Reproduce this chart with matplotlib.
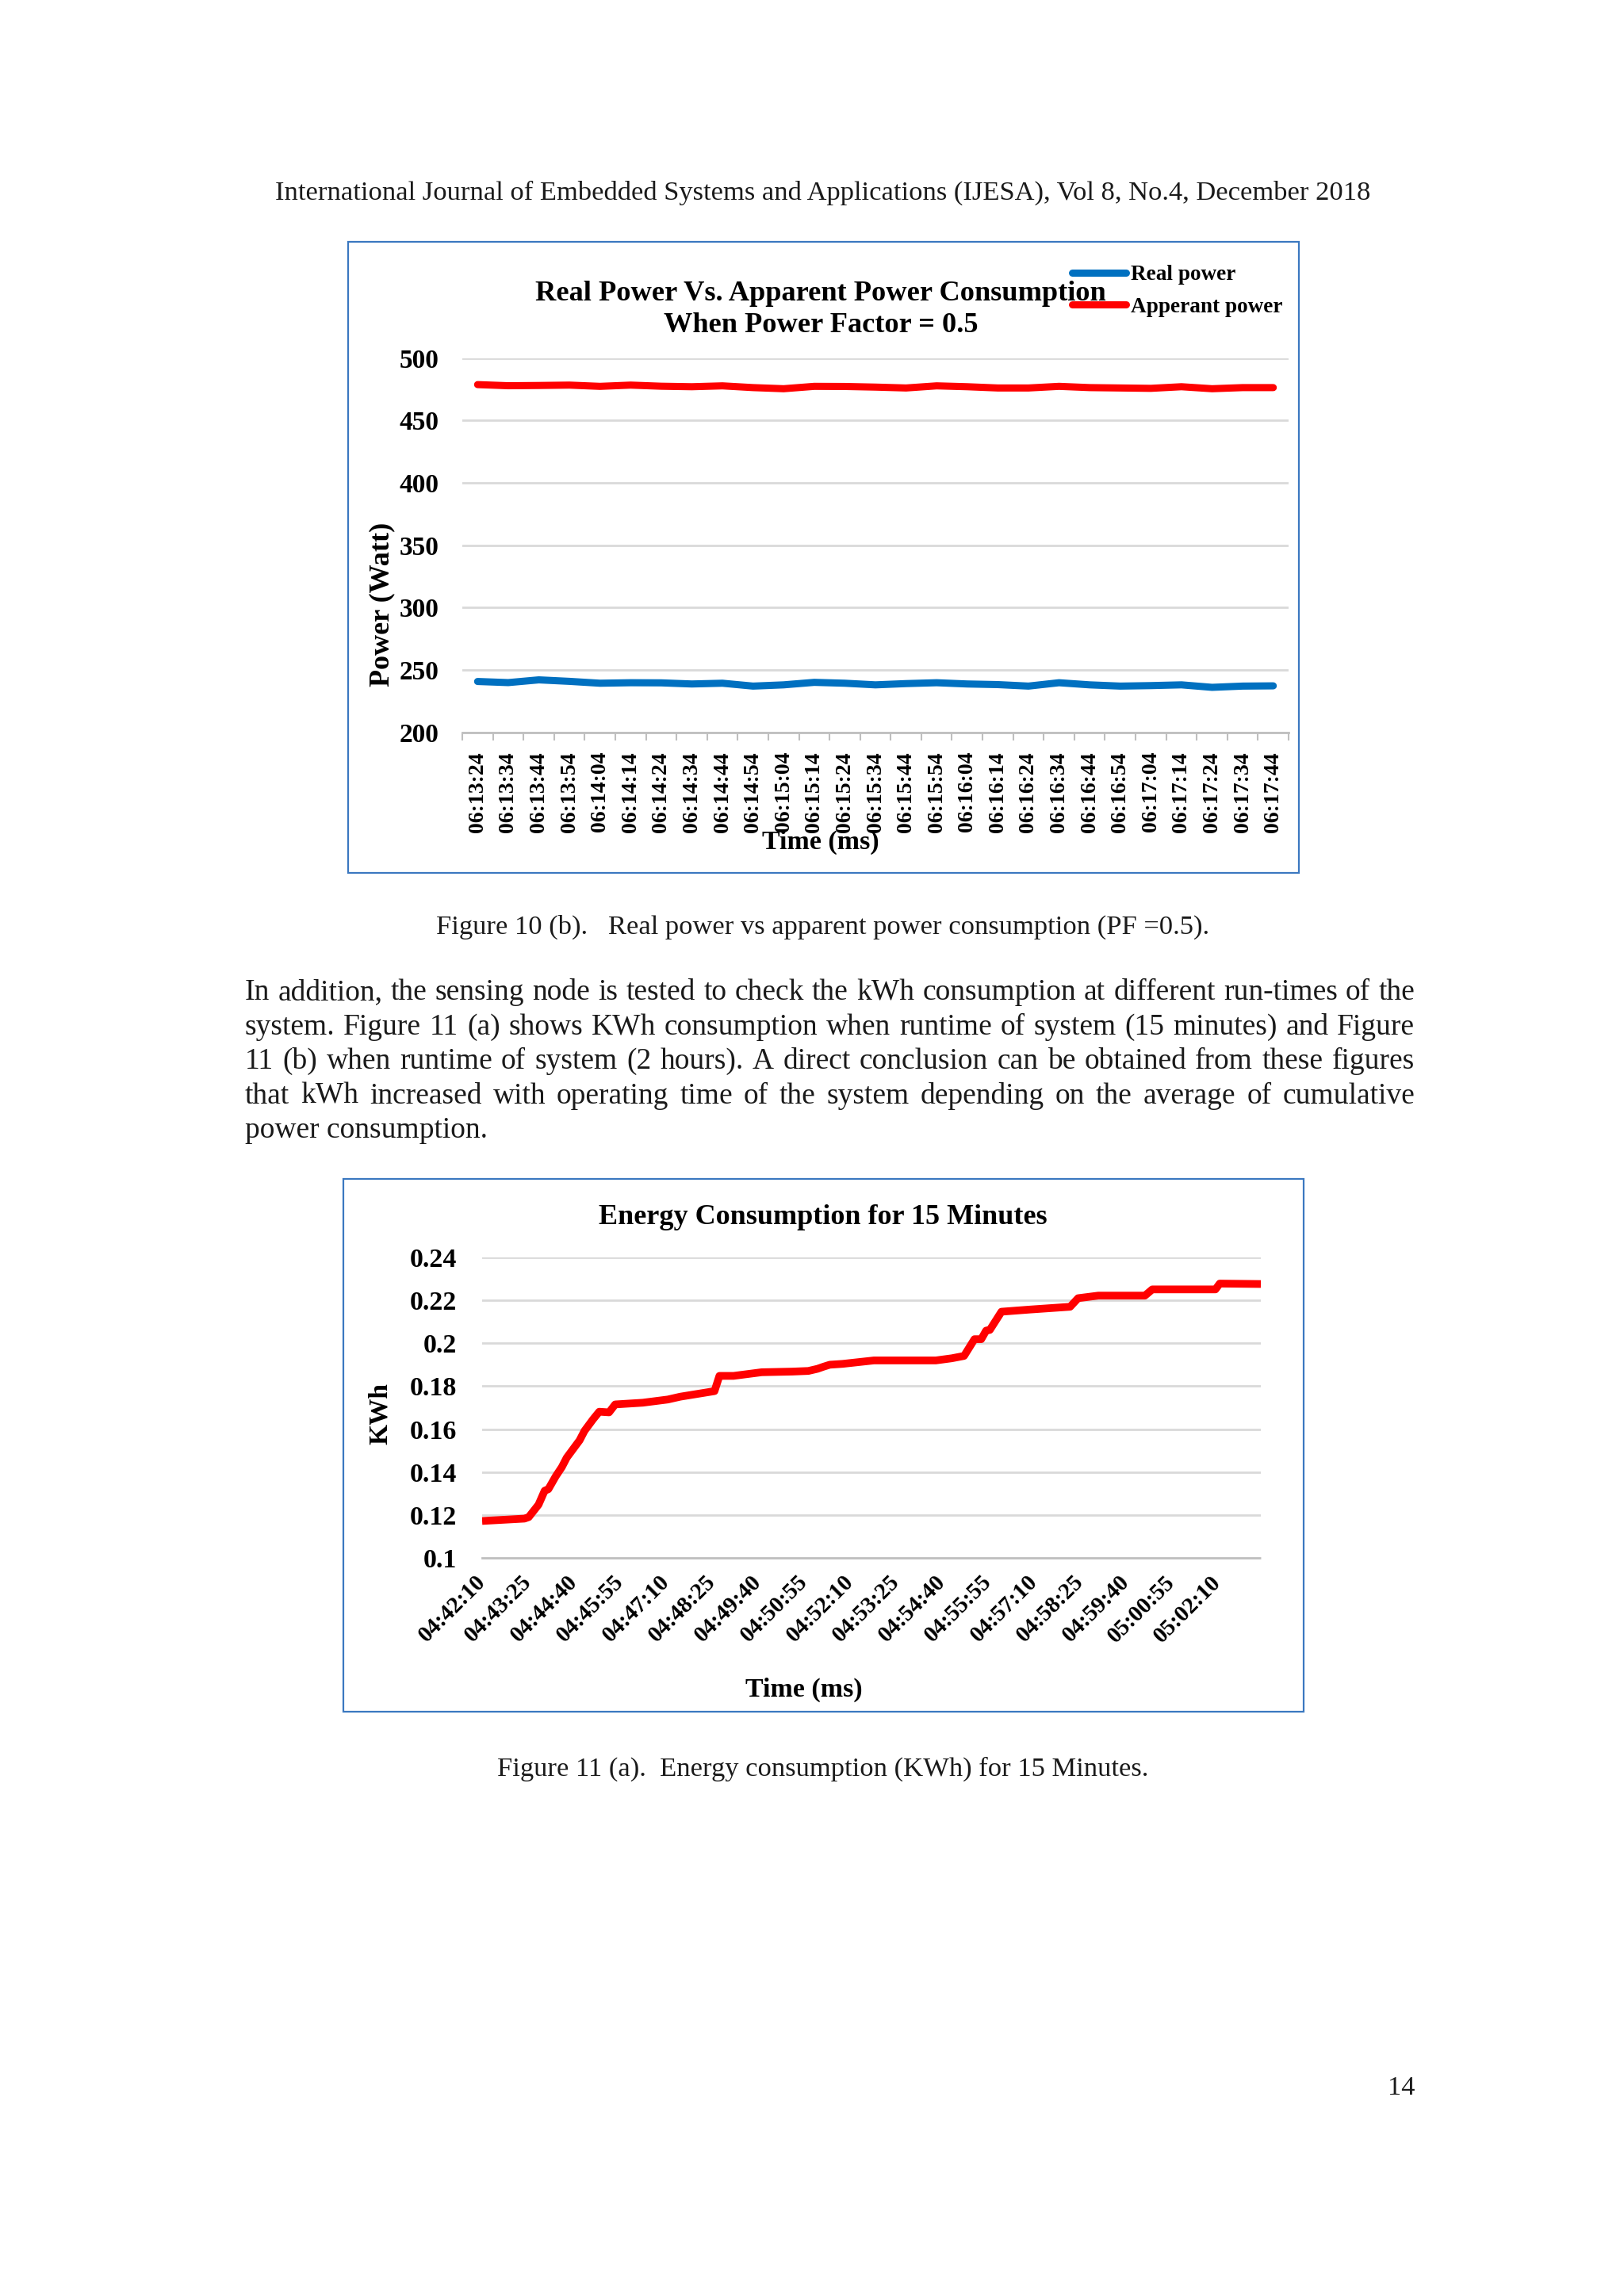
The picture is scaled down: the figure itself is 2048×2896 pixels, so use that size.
import matplotlib
matplotlib.use("Agg")
import matplotlib.pyplot as plt
from matplotlib.patches import Rectangle

plt.rcParams['font.family'] = ['Liberation Serif', 'DejaVu Serif']

# ------------------------------------------------------------------
# Data: Figure 10 (b) - real vs apparent power, PF = 0.5
# ------------------------------------------------------------------
time_labels_10 = [
    '06:13:24', '06:13:34', '06:13:44', '06:13:54', '06:14:04', '06:14:14',
    '06:14:24', '06:14:34', '06:14:44', '06:14:54', '06:15:04', '06:15:14',
    '06:15:24', '06:15:34', '06:15:44', '06:15:54', '06:16:04', '06:16:14',
    '06:16:24', '06:16:34', '06:16:44', '06:16:54', '06:17:04', '06:17:14',
    '06:17:24', '06:17:34', '06:17:44',
]
real_power = [
    240.7, 239.8, 242.0, 240.8, 239.3, 239.7, 239.6, 238.7, 239.3, 237.0,
    238.0, 240.0, 239.3, 238.0, 239.0, 239.7, 238.7, 238.2, 237.0, 239.7,
    238.0, 237.0, 237.4, 238.0, 236.0, 237.0, 237.2,
]
apparent_power = [
    478.7, 477.8, 478.0, 478.3, 477.3, 478.3, 477.4, 477.0, 477.7, 476.3,
    475.4, 477.3, 477.2, 476.7, 476.0, 477.7, 477.0, 476.0, 476.0, 477.3,
    476.3, 476.0, 475.7, 477.0, 475.4, 476.3, 476.3,
]
power_ticks = [200, 250, 300, 350, 400, 450, 500]

# ------------------------------------------------------------------
# Data: Figure 11 (a) - cumulative energy, seconds after 04:42:10
# ------------------------------------------------------------------
elapsed_s = [
    0, 69, 76, 92, 102, 108, 120, 130, 138, 159, 167, 181, 191, 207, 217,
    262, 303, 323, 379, 387, 410, 456, 506, 532, 547, 557, 567, 588, 639,
    740, 766, 786, 803, 814, 822, 828, 847, 893, 959, 972, 1005, 1081,
    1093, 1196, 1203, 1270,
]
energy_kwh = [
    0.1172, 0.1183, 0.1190, 0.1248, 0.1313, 0.1320, 0.1380, 0.1423, 0.1467,
    0.1548, 0.1592, 0.1646, 0.1681, 0.1678, 0.1715, 0.1723, 0.1738, 0.1751,
    0.1777, 0.1848, 0.1848, 0.1865, 0.1868, 0.1871, 0.1881, 0.1891, 0.1900,
    0.1904, 0.1920, 0.1920, 0.1930, 0.1941, 0.2019, 0.2019, 0.2059, 0.2062,
    0.2147, 0.2157, 0.2170, 0.2210, 0.2222, 0.2222, 0.2251, 0.2251, 0.2278,
    0.2276,
]
time_labels_11 = [
    '04:42:10', '04:43:25', '04:44:40', '04:45:55', '04:47:10', '04:48:25',
    '04:49:40', '04:50:55', '04:52:10', '04:53:25', '04:54:40', '04:55:55',
    '04:57:10', '04:58:25', '04:59:40', '05:00:55', '05:02:10',
]
label_step_s = 75
energy_ticks = [0.10, 0.12, 0.14, 0.16, 0.18, 0.20, 0.22, 0.24]
energy_tick_labels = ['0.1', '0.12', '0.14', '0.16', '0.18', '0.2', '0.22', '0.24']

# ------------------------------------------------------------------
# Page text
# ------------------------------------------------------------------
header = ("International Journal of Embedded Systems and Applications (IJESA), "
          "Vol 8, No.4, December 2018")
body_lines = [
    "In addition, the sensing node is tested to check the kWh consumption at different run-times of the",
    "system. Figure 11 (a) shows KWh consumption when runtime of system (15 minutes) and Figure",
    "11 (b) when runtime of system (2 hours). A direct conclusion can be obtained from these figures",
    "that kWh increased with operating time of the system depending on the average of cumulative",
    "power consumption.",
]
caption_10 = "Figure 10 (b).   Real power vs apparent power consumption (PF =0.5)."
caption_11 = "Figure 11 (a).  Energy consumption (KWh) for 15 Minutes."

W, H = 2048, 2896
TXT = '#1a1a1a'
BLUE = '#0070C0'
RED = '#FF0000'
GRID = '#D9D9D9'
BOX = '#3B78C0'

fig = plt.figure(figsize=(W / 100, H / 100), dpi=100)


def fx(x):
    return x / W


def fy(y):
    return 1 - y / H


def add_axes_px(left, top, right, bottom):
    return fig.add_axes([fx(left), fy(bottom), (right - left) / W, (bottom - top) / H])


def chart_box(left, top, right, bottom):
    fig.add_artist(Rectangle((fx(left), fy(bottom)), (right - left) / W, (bottom - top) / H,
                             transform=fig.transFigure, fill=False, edgecolor=BOX, lw=1.6))


def justified_line(words, x0, x1, y, size):
    renderer = fig.canvas.get_renderer()
    texts = [fig.text(0, fy(y), w, fontsize=size, color=TXT, va='baseline') for w in words]
    widths = [t.get_window_extent(renderer).width for t in texts]
    gap = (x1 - x0 - sum(widths)) / max(len(words) - 1, 1)
    x = x0
    for t, w in zip(texts, widths):
        t.set_x(fx(x))
        x += w + gap


# header, captions, page number
fig.text(fx(1038), fy(252), header, fontsize=24.8, color=TXT, ha='center', va='baseline')
fig.text(fx(1038), fy(1178), caption_10, fontsize=24.8, color=TXT, ha='center', va='baseline')
fig.text(fx(1038), fy(2240), caption_11, fontsize=24.8, color=TXT, ha='center', va='baseline')
fig.text(fx(1784), fy(2642), "14", fontsize=24.8, color=TXT, ha='right', va='baseline')

# paragraph (justified, last line left aligned)
baselines = [1261, 1305, 1348, 1392, 1435]
for i, line in enumerate(body_lines):
    if i < len(body_lines) - 1:
        justified_line(line.split(' '), 309, 1784, baselines[i], 27)
    else:
        fig.text(fx(309), fy(baselines[i]), line, fontsize=27, color=TXT, va='baseline')

# ------------------------------------------------------------------
# Figure 10 (b)
# ------------------------------------------------------------------
chart_box(439, 305, 1638, 1101)
L1, T1, R1, B1 = 583, 451.6, 1625, 923.6
ax1 = add_axes_px(L1, T1, R1, B1)
x10 = range(len(time_labels_10))
ax1.plot(x10, real_power, color=BLUE, lw=6.5, solid_capstyle='round', label='Real power')
ax1.plot(x10, apparent_power, color=RED, lw=6.5, solid_capstyle='round', label='Apperant power')
ax1.set_xlim(-0.5, len(time_labels_10) - 0.5)
ax1.set_ylim(power_ticks[0], power_ticks[-1])
ax1.set_yticks(power_ticks)
ax1.set_xticks(list(x10))
ax1.set_xticklabels(time_labels_10, rotation=90, fontsize=20, fontweight='bold')
ax1.set_xticks([i - 0.5 for i in range(len(time_labels_10) + 1)], minor=True)
ax1.tick_params(axis='x', which='major', length=0, pad=17.5)
ax1.tick_params(axis='x', which='minor', length=7, width=1.5, color='#BFBFBF', direction='out')
ax1.tick_params(axis='y', length=0, pad=21.3, labelsize=24)
for lab in ax1.get_yticklabels():
    lab.set_fontweight('bold')
ax1.grid(axis='y', color=GRID, lw=2)
ax1.set_axisbelow(True)
for s in ['top', 'right', 'left']:
    ax1.spines[s].set_visible(False)
ax1.spines['bottom'].set_color('#BFBFBF')
ax1.spines['bottom'].set_linewidth(2)
ax1.set_title("Real Power Vs. Apparent Power Consumption\nWhen Power Factor = 0.5",
              fontsize=26.2, fontweight='bold', x=(1035 - L1) / (R1 - L1), y=1.052,
              linespacing=1.25)
ax1.set_ylabel("Power (Watt)", fontsize=26, fontweight='bold')
ax1.yaxis.set_label_coords((498 - L1) / (R1 - L1), 0.342)
ax1.set_xlabel("Time (ms)", fontsize=24.5, fontweight='bold')
ax1.xaxis.set_label_coords((1035 - L1) / (R1 - L1), -0.26)
fig.legend(loc='upper left', bbox_to_anchor=(fx(1352), fy(334)), frameon=False,
           prop={'size': 19.6, 'weight': 'bold'}, handlelength=2.5, handletextpad=0.2,
           labelspacing=0.57, borderpad=0, borderaxespad=0)

# ------------------------------------------------------------------
# Figure 11 (a)
# ------------------------------------------------------------------
chart_box(433, 1487, 1644, 2159)
L2, T2, R2, B2 = 608, 1586, 1590, 1965
ax2 = add_axes_px(L2, T2, R2, B2)
ax2.plot(elapsed_s, energy_kwh, color=RED, lw=7, solid_capstyle='butt')
ax2.set_xlim(elapsed_s[0], elapsed_s[-1])
ax2.set_ylim(energy_ticks[0], energy_ticks[-1])
ax2.set_yticks(energy_ticks)
ax2.set_yticklabels(energy_tick_labels, fontsize=24.5, fontweight='bold')
ax2.set_xticks([i * label_step_s for i in range(len(time_labels_11))])
ax2.set_xticklabels(time_labels_11, rotation=45, ha='right', va='center',
                    rotation_mode='anchor', fontsize=21, fontweight='bold')
ax2.tick_params(axis='x', length=0, pad=19)
ax2.tick_params(axis='y', length=0, pad=23.3)
ax2.grid(axis='y', color=GRID, lw=2)
ax2.get_ygridlines()[0].set_visible(False)
ax2.set_axisbelow(True)
for s in ['top', 'right', 'left']:
    ax2.spines[s].set_visible(False)
ax2.spines['bottom'].set_color('#BFBFBF')
ax2.spines['bottom'].set_linewidth(2)
ax2.spines['bottom'].set_linestyle((0, (1, 1)))
ax2.set_title("Energy Consumption for 15 Minutes", fontsize=26, fontweight='bold',
              x=(1038 - L2) / (R2 - L2), y=1.09)
ax2.set_ylabel("KWh", fontsize=24, fontweight='bold')
ax2.yaxis.set_label_coords((495 - L2) / (R2 - L2), 0.48)
ax2.set_xlabel("Time (ms)", fontsize=24.5, fontweight='bold')
ax2.xaxis.set_label_coords((1014 - L2) / (R2 - L2), -0.398)

fig.savefig('out.png', dpi=100, facecolor='white')
